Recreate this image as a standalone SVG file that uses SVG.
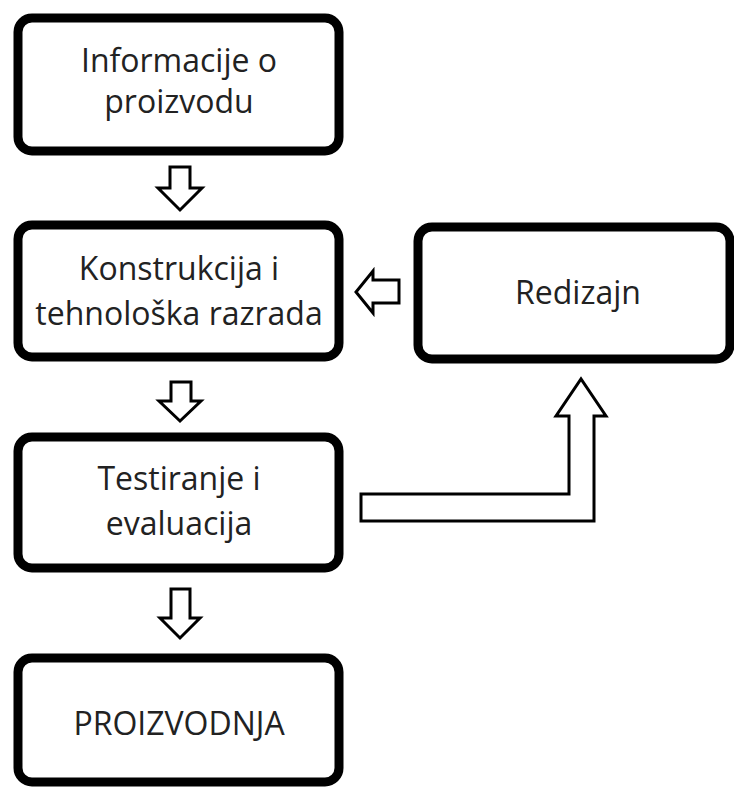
<svg xmlns="http://www.w3.org/2000/svg" width="734" height="788" viewBox="0 0 734 788">
<style>
.box{fill:#fff;stroke:#000;stroke-width:9}
.arr{fill:#fff;stroke:#000;stroke-width:3;stroke-linejoin:miter}
.t{font-family:"Open Sans",sans-serif;font-size:32px;fill:#222;text-anchor:middle}
</style>
<rect width="734" height="788" fill="#fff"/>
<g id="connectors">
<polygon class="arr" points="170,167 190,167 190,188 202,188 180,210 158,188 170,188"/>
<polygon class="arr" points="171,382 191,382 191,401 201,401 180,421 159,401 171,401"/>
<polygon class="arr" points="171,589 190,589 190,618 200,618 180,638 160,618 171,618"/>
<polygon class="arr" points="399,280 399,303 373,303 373,313 356,292 373,271 373,280"/>
<polygon class="arr" points="361,494 569,494 569,416 556,416 581,379 606,416 594,416 594,521 361,521"/>
</g>
<g id="n1">
<rect class="box" x="18" y="18" width="321" height="133" rx="14"/>
<text class="t" x="179" y="72">Informacije o</text>
<text class="t" x="179" y="113">proizvodu</text>
</g>
<g id="n2">
<rect class="box" x="18" y="225" width="321" height="132" rx="14"/>
<text class="t" x="179" y="280">Konstrukcija i</text>
<text class="t" x="179" y="325">tehnološka razrada</text>
</g>
<g id="n3">
<rect class="box" x="18" y="437" width="321" height="131" rx="14"/>
<text class="t" x="179" y="490">Testiranje i</text>
<text class="t" x="179" y="535">evaluacija</text>
</g>
<g id="n4">
<rect class="box" x="18" y="658" width="321" height="124" rx="14"/>
<text class="t" x="179" y="735">PROIZVODNJA</text>
</g>
<g id="n5">
<rect class="box" x="418" y="227" width="312" height="132" rx="14"/>
<text class="t" x="578" y="304">Redizajn</text>
</g>
</svg>
